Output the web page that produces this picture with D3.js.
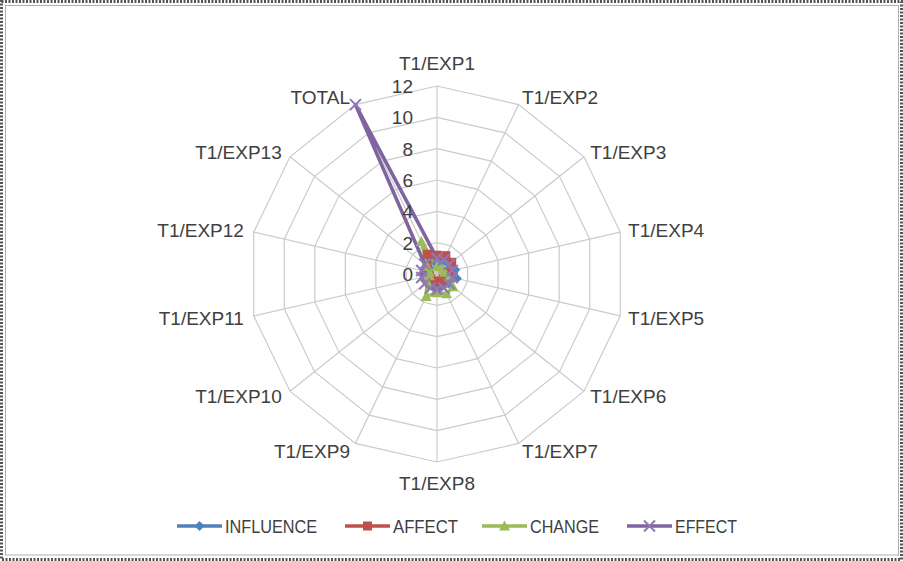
<!DOCTYPE html>
<html>
<head>
<meta charset="utf-8">
<script src="https://cdn.jsdelivr.net/npm/d3@7"></script>
<style>
  html, body { margin: 0; padding: 0; background: #fff; }
  svg { display: block; }
  text { font-family: "Liberation Sans", Arial, sans-serif; fill: #404040; }
</style>
</head>
<body>
<svg id="chart" width="903" height="561"></svg>
<script>
// Axis categories and tick labels
const categories = ["T1/EXP1", "T1/EXP2", "T1/EXP3", "T1/EXP4", "T1/EXP5", "T1/EXP6", "T1/EXP7",
                    "T1/EXP8", "T1/EXP9", "T1/EXP10", "T1/EXP11", "T1/EXP12", "T1/EXP13", "TOTAL"];
const tickValues = [0, 2, 4, 6, 8, 10, 12];

// Series values, one per category
const influence = [0.6, 0.8, 1.0, 1.2, 1.3, 1.0, 0.8, 0.6, 0.6, 0.6, 0.6, 0.6, 0.6, 1.2];
const affect    = [1.2, 1.3, 1.2, 0.8, 0.6, 0.5, 0.5, 0.5, 0.5, 0.5, 0.5, 0.6, 0.8, 1.4];
const change    = [0.5, 0.5, 0.5, 0.5, 0.8, 1.3, 1.4, 1.2, 1.6, 0.8, 0.5, 0.5, 0.8, 2.3];
const effect    = [1.0, 1.0, 1.0, 1.0, 1.0, 1.0, 1.0, 1.0, 1.0, 1.0, 1.0, 1.0, 1.0, 12];

const seriesNames = ["INFLUENCE", "AFFECT", "CHANGE", "EFFECT"];
const seriesValues = [influence, affect, change, effect];
const seriesColors = ["#4F81BD", "#C0504D", "#9BBB59", "#8064A2"];
const seriesMarkers = ["diamond", "square", "triangle", "x"];

const svg = d3.select("#chart");
const W = 903, H = 561;

// Frame around the chart area
svg.append("rect").attr("x", 1.5).attr("y", 1.5).attr("width", W - 3).attr("height", H - 3)
  .attr("fill", "none").attr("stroke", "#555").attr("stroke-width", 3).attr("stroke-dasharray", "2,1.5");
svg.append("rect").attr("x", 5.5).attr("y", 5.5).attr("width", W - 4.5 - 5.5).attr("height", H - 6 - 5.5)
  .attr("fill", "none").attr("stroke", "#b0b0b0").attr("stroke-width", 1);

const cx = 437, cy = 274, R = 188;
const n = categories.length;
const r = d3.scaleLinear().domain([0, 12]).range([0, R]);
const angle = d3.scalePoint().domain(d3.range(n + 1)).range([0, 2 * Math.PI]);
const pt = (i, v) => {
  const a = angle(i % n);
  return [cx + r(v) * Math.sin(a), cy - r(v) * Math.cos(a)];
};

const g = svg.append("g");

// Polygonal grid rings
tickValues.filter(t => t > 0).forEach(t => {
  g.append("polygon")
    .attr("points", d3.range(n).map(i => pt(i, t).join(",")).join(" "))
    .attr("fill", "none").attr("stroke", "#cbcbcb").attr("stroke-width", 1.2);
});
// Spokes
d3.range(n).forEach(i => {
  const [x, y] = pt(i, 12);
  g.append("line").attr("x1", cx).attr("y1", cy).attr("x2", x).attr("y2", y)
    .attr("stroke", "#cbcbcb").attr("stroke-width", 1.2);
});

// Category labels
categories.forEach((c, i) => {
  const a = angle(i);
  const s = Math.sin(a), co = Math.cos(a);
  const t = g.append("text").text(c).style("font-size", "19px");
  if (Math.abs(s) < 0.1) {
    t.attr("x", cx).attr("text-anchor", "middle");
    if (co > 0) t.attr("y", cy - R - 16);
    else t.attr("y", cy + R + 28);
  } else {
    const x = cx + (R + 8) * s, y = cy - (R + 8) * co;
    t.attr("x", s > 0 ? x : x - 2).attr("y", y + 7).attr("text-anchor", s > 0 ? "start" : "end");
  }
});

// Series lines
const line = d3.line();
seriesValues.forEach((vals, k) => {
  const pts = vals.map((v, i) => pt(i, v));
  pts.push(pts[0]);
  g.append("path").attr("d", line(pts)).attr("fill", "none")
    .attr("stroke", seriesColors[k]).attr("stroke-width", 3.6).attr("stroke-linejoin", "round");
});

// Marker drawing
function marker(sel, type, x, y, color) {
  if (type === "diamond") {
    sel.append("path").attr("d", `M${x},${y - 5}L${x + 5},${y}L${x},${y + 5}L${x - 5},${y}Z`).attr("fill", color);
  } else if (type === "square") {
    sel.append("rect").attr("x", x - 4.5).attr("y", y - 4.5).attr("width", 9).attr("height", 9).attr("fill", color);
  } else if (type === "triangle") {
    sel.append("path").attr("d", `M${x},${y - 5.5}L${x + 5.5},${y + 4.5}L${x - 5.5},${y + 4.5}Z`).attr("fill", color);
  } else {
    sel.append("path").attr("d", `M${x - 5.5},${y - 5.5}L${x + 5.5},${y + 5.5}M${x - 5.5},${y + 5.5}L${x + 5.5},${y - 5.5}`)
      .attr("stroke", "#8f78b4").attr("stroke-width", 2).attr("fill", "none");
  }
}
seriesValues.forEach((vals, k) => {
  vals.forEach((v, i) => {
    const [x, y] = pt(i, v);
    marker(g, seriesMarkers[k], x, y, seriesColors[k]);
  });
});

// Radial tick labels
tickValues.forEach(t => {
  g.append("text").text(t).attr("x", cx - 24).attr("y", cy - r(t) + 7)
    .attr("text-anchor", "end").style("font-size", "19px");
});

// Legend
const legendX = [177, 345, 482, 627];
const legendW = [92, 65, 69, 62];
const legendY = 526;
seriesNames.forEach((name, k) => {
  const lg = svg.append("g");
  const x0 = legendX[k];
  lg.append("line").attr("x1", x0).attr("x2", x0 + 45).attr("y1", legendY).attr("y2", legendY)
    .attr("stroke", seriesColors[k]).attr("stroke-width", 3.5);
  marker(lg, seriesMarkers[k], x0 + 22.5, legendY, seriesColors[k]);
  lg.append("text").text(name).attr("x", x0 + 48).attr("y", legendY + 6.5)
    .attr("textLength", legendW[k]).attr("lengthAdjust", "spacingAndGlyphs")
    .style("font-size", "17.5px");
});
</script>
</body>
</html>
